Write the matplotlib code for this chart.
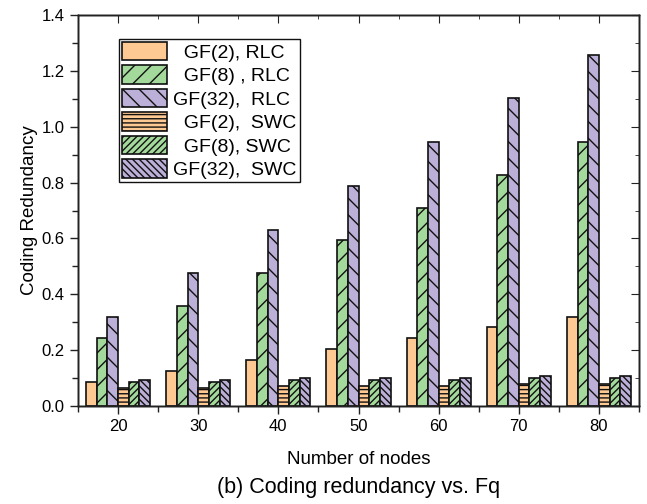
import numpy as np
import matplotlib
matplotlib.use("Agg")
import matplotlib.pyplot as plt
from matplotlib.ticker import MultipleLocator, NullFormatter, FormatStrFormatter

plt.rcParams['font.family'] = ['Liberation Sans', 'DejaVu Sans']
plt.rcParams['hatch.linewidth'] = 1.0

nodes = [20, 30, 40, 50, 60, 70, 80]
gf2_rlc = [0.085, 0.124, 0.164, 0.204, 0.243, 0.283, 0.320]
gf8_rlc = [0.242, 0.358, 0.476, 0.594, 0.710, 0.828, 0.946]
gf32_rlc = [0.320, 0.476, 0.632, 0.788, 0.946, 1.102, 1.257]
gf2_swc = [0.063, 0.063, 0.071, 0.071, 0.071, 0.078, 0.078]
gf8_swc = [0.085, 0.085, 0.093, 0.093, 0.093, 0.102, 0.102]
gf32_swc = [0.093, 0.093, 0.102, 0.102, 0.102, 0.108, 0.108]

labels = ['  GF(2), RLC', '  GF(8) , RLC', 'GF(32),  RLC',
          '  GF(2),  SWC', '  GF(8), SWC', 'GF(32),  SWC']
series = [gf2_rlc, gf8_rlc, gf32_rlc, gf2_swc, gf8_swc, gf32_swc]

orange = '#FFC994'
green = '#A3D99B'
purple = '#BDB0D8'
colors = [orange, green, purple, orange, green, purple]
hatches = [None, '//', '\\\\', '----', '/////', '\\\\\\\\\\']

fig = plt.figure(figsize=(6.47, 5.04), dpi=100)
ax = fig.add_axes([0.1206, 0.1944, 0.867, 0.7758])

w = 8 / 6
x = np.array(nodes, dtype=float)
for i, (vals, c, h, lab) in enumerate(zip(series, colors, hatches, labels)):
    ax.bar(x + (i - 2.5) * w, vals, width=w, color=c, hatch=h,
           edgecolor='#111111', linewidth=1.2, label=lab)

ax.set_xlim(15, 85)
ax.set_ylim(0, 1.4)
ax.xaxis.set_major_locator(MultipleLocator(10))
ax.xaxis.set_minor_locator(MultipleLocator(5))
ax.yaxis.set_major_locator(MultipleLocator(0.2))
ax.yaxis.set_minor_locator(MultipleLocator(0.1))
ax.yaxis.set_major_formatter(FormatStrFormatter('%.1f'))

ax.tick_params(which='both', direction='out', top=False, right=False,
               labelsize=12, color='#222222', width=1.0)
ax.tick_params(which='major', length=6)
ax.tick_params(which='minor', length=4)

# inward ticks on the top and right spines
ax2 = ax.twinx()
ax2.set_ylim(ax.get_ylim())
ax2.yaxis.set_major_locator(MultipleLocator(0.2))
ax2.yaxis.set_minor_locator(MultipleLocator(0.1))
ax2.yaxis.set_major_formatter(NullFormatter())
ax2.tick_params(which='both', direction='in', color='#222222')
ax2.tick_params(which='major', length=6)
ax2.tick_params(which='minor', length=3)
ax3 = ax.twiny()
ax3.set_xlim(ax.get_xlim())
ax3.xaxis.set_major_locator(MultipleLocator(10))
ax3.xaxis.set_minor_locator(MultipleLocator(5))
ax3.xaxis.set_major_formatter(NullFormatter())
ax3.tick_params(which='both', direction='in', color='#222222')
ax3.tick_params(which='major', length=6)
ax3.tick_params(which='minor', length=3)

for a in (ax, ax2, ax3):
    for s in a.spines.values():
        s.set_linewidth(1.0)
        s.set_color('#222222')

ax.set_ylabel('Coding Redundancy', fontsize=13.5, labelpad=3)
ax.set_xlabel('Number of nodes', fontsize=13.5, labelpad=12)
fig.text(0.554, 0.032, '(b) Coding redundancy vs. Fq', fontsize=15.5,
         ha='center', va='center')

leg = ax.legend(loc='upper left', bbox_to_anchor=(0.073, 0.939),
                borderaxespad=0, fontsize=14, handlelength=2.3,
                handleheight=1.1, handletextpad=0.35, labelspacing=0.18,
                borderpad=0.15, fancybox=False, framealpha=1,
                edgecolor='#111111')
leg.get_frame().set_linewidth(1.0)

fig.savefig('out.png', dpi=100)
